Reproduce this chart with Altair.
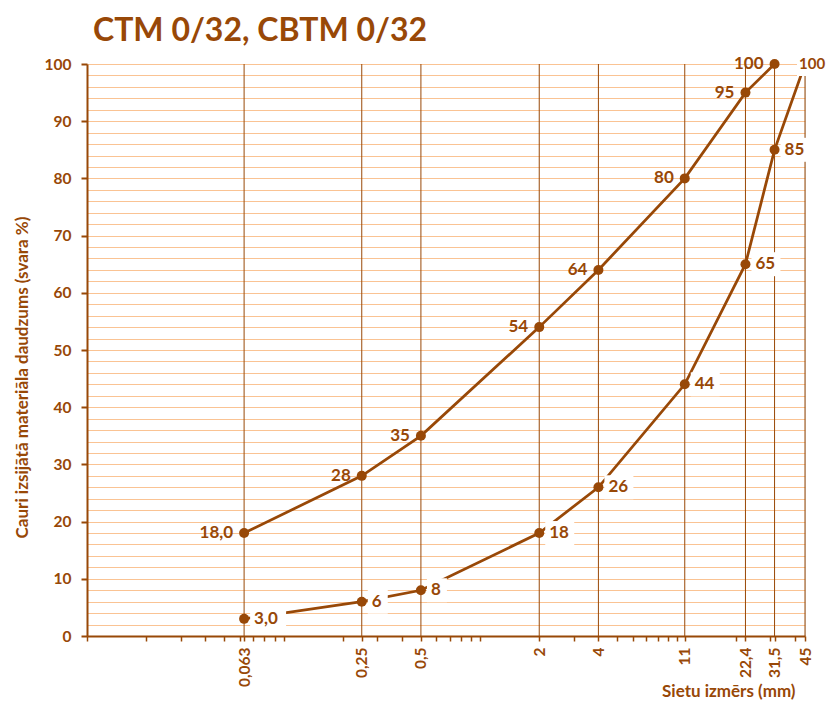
import altair as alt
import pandas as pd

# ---- data ----
sieve_ctm = [0.063, 0.25, 0.5, 2, 4, 11, 22.4, 31.5]
pass_ctm = [18.0, 28, 35, 54, 64, 80, 95, 100]
label_ctm = ["18,0", "28", "35", "54", "64", "80", "95", "100"]

sieve_cbtm = [0.063, 0.25, 0.5, 2, 4, 11, 22.4, 31.5, 45]
pass_cbtm = [3.0, 6, 8, 18, 26, 44, 65, 85, 100]
label_cbtm = ["3,0", "6", "8", "18", "26", "44", "65", "85", "100"]

x_ticks = [0.063, 0.25, 0.5, 2, 4, 11, 22.4, 31.5, 45]
y_ticks = list(range(0, 101, 10))

# ---- styles ----
BROWN = "#984807"
GRID = "#FAC393"
FONT = "Lato"

minor_ticks = []
for dec in [0.01, 0.1, 1, 10]:
    for m in range(1, 10):
        v = round(m * dec, 4)
        if v <= 45:
            minor_ticks.append(v)
all_x_ticks = sorted(set(minor_ticks + x_ticks))
major_js = "[" + ",".join(str(v) for v in x_ticks) + "]"

rows = []
for s, v, l in zip(sieve_ctm, pass_ctm, label_ctm):
    rows.append({"series": "CTM", "size": s, "val": v, "label": l, "n": len(l)})
for i, (s, v, l) in enumerate(zip(sieve_cbtm, pass_cbtm, label_cbtm)):
    rows.append({"series": "CBTM", "size": s, "val": v, "label": l, "n": len(l),
                 "last": i == len(sieve_cbtm) - 1})
df = pd.DataFrame(rows)
df["last"] = df["last"].fillna(False).astype(bool)
ticks_df = pd.DataFrame({"size": x_ticks})

x_axis = alt.Axis(
    values=all_x_ticks,
    labelExpr=f"indexof({major_js}, datum.value) >= 0 ? replace(toString(datum.value), '.', ',') : ''",
    grid=False,
    labelAngle=270, labelAlign="right", labelBaseline="middle",
    labelOverlap=False, labelFlush=False,
    labelFont=FONT, labelFontSize=15.5, labelFontWeight="bold", labelColor=BROWN,
    labelPadding=6,
    tickSize=5, tickColor=BROWN, tickWidth=1.5,
    domainColor=BROWN, domainWidth=2,
    title="Sietu izmērs (mm)", titleFont=FONT, titleFontSize=17, titleFontWeight="bold",
    titleColor=BROWN, titleX=708, titleY=60, titleAlign="right", titleBaseline="alphabetic",
)
y_axis = alt.Axis(
    values=list(range(0, 101, 2)),
    labelExpr="datum.value % 10 == 0 ? datum.label : ''",
    grid=True, gridColor=GRID, gridWidth=1.2,
    tickOpacity={"condition": {"test": "datum.value % 10 == 0", "value": 1}, "value": 0},
    tickSize=6, tickColor=BROWN, tickWidth=2,
    domainColor=BROWN, domainWidth=2,
    labelFont=FONT, labelFontSize=15.5, labelFontWeight="bold", labelColor=BROWN,
    labelPadding=10,
    title="Cauri izsijātā materiāla daudzums (svara %)", titleFont=FONT, titleFontSize=17,
    titleFontWeight="bold", titleColor=BROWN, titleAngle=270, titleX=-60, titleY=313,
    titleAlign="center", titleBaseline="alphabetic",
)
x_enc = alt.X("size:Q", scale=alt.Scale(type="log", domain=[0.01, 45], nice=False), axis=x_axis)
y_enc = alt.Y("val:Q", scale=alt.Scale(domain=[0, 100], nice=False), axis=y_axis)

vgrid = alt.Chart(ticks_df).mark_rule(color=BROWN, strokeWidth=1).encode(x=x_enc)

base = alt.Chart(df)
lines = base.mark_line(color=BROWN, strokeWidth=2.75).encode(x=x_enc, y=y_enc, detail="series:N")
points = base.mark_circle(size=100, color=BROWN, opacity=1).encode(x=x_enc, y=y_enc)

cb = base.transform_filter("datum.series == 'CBTM' && !datum.last")
box_w = {1: 20, 2: 29, 3: 36}
boxes = []
for n, w in box_w.items():
    boxes.append(
        cb.transform_filter(f"datum.n == {n}")
        .mark_rect(color="white", xOffset=6, x2Offset=6 + w, yOffset=-12, y2Offset=12)
        .encode(x=x_enc, x2="size", y=y_enc, y2="val")
    )
last = base.transform_filter("datum.last")
boxes.append(
    last.mark_rect(color="white", xOffset=-8, x2Offset=23, yOffset=-12, y2Offset=12)
    .encode(x=x_enc, x2="size", y=y_enc, y2="val")
)

txt_style = dict(font=FONT, fontSize=17, fontWeight="bold", color=BROWN, baseline="middle")
text_ctm = base.transform_filter("datum.series == 'CTM'").mark_text(
    align="right", dx=-11, **txt_style).encode(x=x_enc, y=y_enc, text="label:N")
text_cbtm = cb.mark_text(align="left", dx=10, **txt_style).encode(x=x_enc, y=y_enc, text="label:N")
text_last = last.mark_text(align="left", dx=-6, fontSize=15, font=FONT, fontWeight="bold",
                           color=BROWN, baseline="middle").encode(x=x_enc, y=y_enc, text="label:N")

chart = alt.layer(vgrid, lines, points, *boxes, text_ctm, text_cbtm, text_last).properties(
    width=718, height=572,
    autosize=alt.AutoSizeParams(type="none"),
    padding={"left": 79, "top": 56, "right": 23, "bottom": 65},
    title=alt.TitleParams("CTM 0/32, CBTM 0/32", anchor="start", frame="group", dx=6,
                          dy=45, offset=24, baseline="alphabetic", fontSize=32, font=FONT,
                          fontWeight="bold", color=BROWN),
).configure_view(stroke=None).configure(background="white")

chart.save("out.html", embed_options={"renderer": "svg", "actions": False})
